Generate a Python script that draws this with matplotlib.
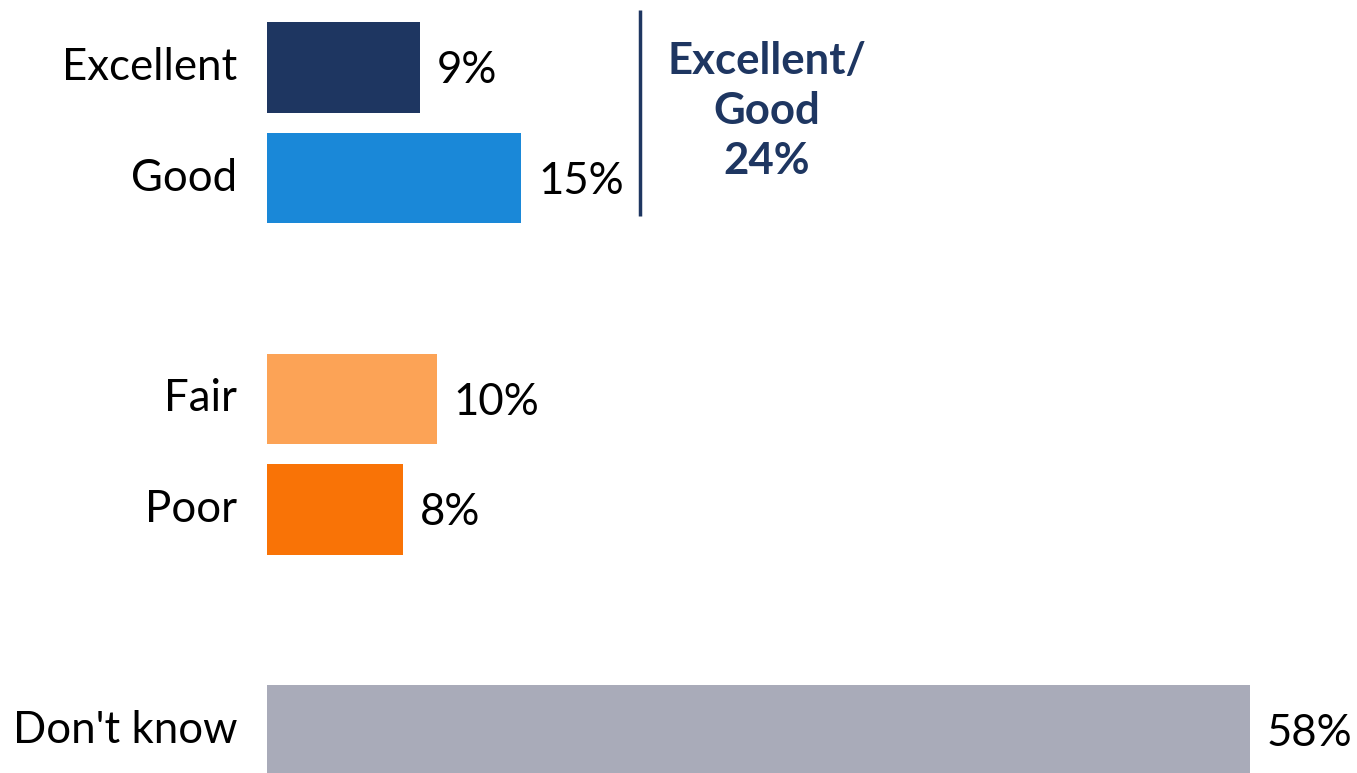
import matplotlib
matplotlib.use("Agg")
import matplotlib.pyplot as plt

# data
categories = ["Excellent", "Good", "Fair", "Poor", "Don't know"]
values = [9, 15, 10, 8, 58]
positions = [0, 1, 3, 4, 6]
colors = ["#1e3661", "#1a88d8", "#fca356", "#f97306", "#a9abb9"]
summary_text = "Excellent/\nGood\n24%"

W, H = 1357, 773
fig = plt.figure(figsize=(W / 100, H / 100), dpi=100)

# axes placed so bars start at x=267 px
ax_left = 267
px_per_pct = 16.95
ax = fig.add_axes([ax_left / W, 0, (W - ax_left) / W, 1])
ax.set_xlim(0, (W - ax_left) / px_per_pct)
ax.set_ylim(6.385, -0.611)
ax.axis("off")

ax.barh(positions, values, height=0.82, color=colors)

font = ["Lato", "DejaVu Sans"]
fs = 31.5
for pos, val, cat in zip(positions, values, categories):
    ax.text(val + 1.0, pos + 0.03, f"{val}%", va="center", ha="left",
            fontsize=fs, family=font, color="black")
    ax.text(-1.75, pos, cat, va="center", ha="right",
            fontsize=fs, family=font, color="black")

# bracket line + summary
ax.plot([22.0, 22.0], [-0.52, 1.34], color="#1e3661", lw=2.5,
        solid_capstyle="butt", clip_on=False)
ax.text(29.5, 0.39, summary_text, ha="center", va="center",
        fontsize=fs, fontweight="bold", family=font, color="#1e3661",
        linespacing=1.3)

fig.savefig("out.png", dpi=100)
